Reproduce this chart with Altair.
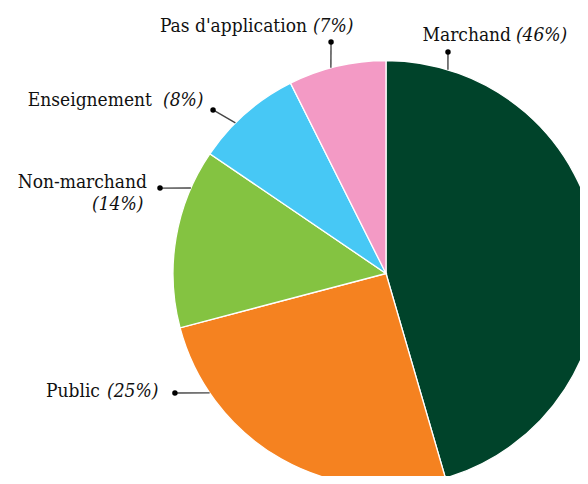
import math
import altair as alt
import pandas as pd

# ---- data ----
categories = ["Marchand", "Public", "Non-marchand", "Enseignement", "Pas d'application"]
values = [45.5, 25.4, 13.6, 8.1, 7.4]
pct_labels = ["(46%)", "(25%)", "(14%)", "(8%)", "(7%)"]
colors = ["#00432a", "#f58220", "#84c341", "#47c8f5", "#f39ac5"]

# ---- layout (pie units: radius = 1, centre = 0,0) ----
W, H = 572, 468
CX, CY, R = 378, 265.5, 213
xs = alt.Scale(domain=[-CX / R, (W - CX) / R], nice=False, zero=False)
ys = alt.Scale(domain=[-(H - CY) / R, CY / R], nice=False, zero=False)

# annotation placement (pie units)
rim_angle = [16.9, -124.1, -66.35, -45.0, -15.0]
dot_u = [0.291, -0.991, -1.061, -0.812, -0.258]
dot_v = [1.040, -0.561, 0.401, 0.768, 1.087]
name_u = [0.587, -1.343, -1.122, -1.099, -0.371]
name_v = [1.092, -0.582, 0.400, 0.786, 1.135]
pct_u = [0.610, -1.310, -1.380, -1.047, -0.343]
pct_v = [1.092, -0.582, 0.300, 0.786, 1.135]

df = pd.DataFrame({"category": categories, "value": values, "idx": range(len(values))})

ann = pd.DataFrame({
    "category": categories,
    "rx": [math.sin(math.radians(a)) for a in rim_angle],
    "ry": [math.cos(math.radians(a)) for a in rim_angle],
    "du": dot_u, "dv": dot_v,
    "nu": name_u, "nv": name_v,
    "pu": pct_u, "pv": pct_v,
    "pct": pct_labels,
})

FONT = "DejaVu Serif Condensed"
FS = 19

pie = alt.Chart(df).mark_arc(outerRadius=R, stroke="white", strokeWidth=1.3).encode(
    theta=alt.Theta("value:Q", stack=True),
    order=alt.Order("idx:Q"),
    color=alt.Color("category:N", scale=alt.Scale(domain=categories, range=colors), legend=None),
    x=alt.XDatum(0, scale=xs, axis=None),
    y=alt.YDatum(0, scale=ys, axis=None),
)

base = alt.Chart(ann)

leaders = base.mark_rule(color="#444", strokeWidth=1.4).encode(
    x=alt.X("rx:Q", scale=xs, axis=None), y=alt.Y("ry:Q", scale=ys, axis=None),
    x2="du:Q", y2="dv:Q",
)

dots = base.mark_circle(size=30, color="black", opacity=1).encode(
    x=alt.X("du:Q", scale=xs, axis=None), y=alt.Y("dv:Q", scale=ys, axis=None),
)

names = base.mark_text(font=FONT, fontSize=FS, align="right", baseline="alphabetic", color="#111").encode(
    x=alt.X("nu:Q", scale=xs, axis=None), y=alt.Y("nv:Q", scale=ys, axis=None),
    text="category:N",
)

pcts = base.mark_text(font=FONT, fontSize=FS, fontStyle="italic", align="left", baseline="alphabetic", color="#111").encode(
    x=alt.X("pu:Q", scale=xs, axis=None), y=alt.Y("pv:Q", scale=ys, axis=None),
    text="pct:N",
)

chart = alt.layer(pie, leaders, dots, names, pcts).properties(
    width=W, height=H,
    autosize=alt.AutoSizeParams(type="none"),
    padding=0,
).configure_view(stroke=None)

chart.save("out.html", embed_options={"renderer": "svg", "actions": False})
